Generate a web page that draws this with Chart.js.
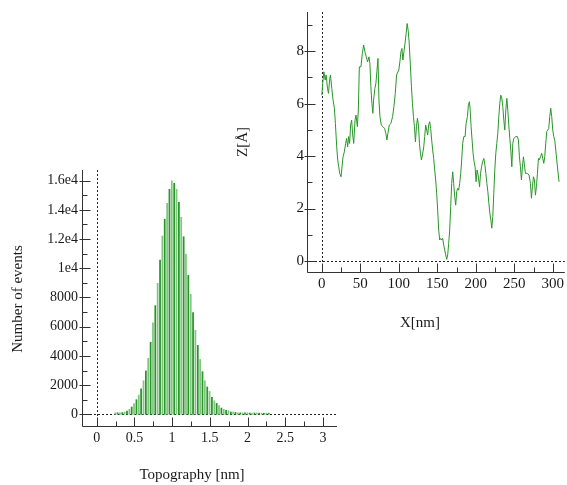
<!DOCTYPE html>
<html>
<head>
<meta charset="utf-8">
<script src="https://cdn.jsdelivr.net/npm/chart.js@4/dist/chart.umd.min.js"></script>
<style>
  html, body { margin: 0; padding: 0; background: #fff; }
  body { width: 567px; height: 485px; position: relative; overflow: hidden; }
  .box { position: absolute; }
</style>
</head>
<body>
<div class="box" style="left:0;top:150px;width:345px;height:335px"><canvas id="histChart"></canvas></div>
<div class="box" style="left:220px;top:0;width:347px;height:340px"><canvas id="profileChart"></canvas></div>
<script>
// histogram of topography heights
const histBins = [0.245, 0.276, 0.308, 0.339, 0.370, 0.402, 0.433, 0.464, 0.495, 0.527,
  0.558, 0.589, 0.621, 0.652, 0.683, 0.715, 0.746, 0.777, 0.808, 0.840,
  0.871, 0.902, 0.934, 0.965, 0.996, 1.028, 1.059, 1.090, 1.121, 1.153,
  1.184, 1.215, 1.247, 1.278, 1.309, 1.341, 1.372, 1.403, 1.434, 1.466,
  1.497, 1.528, 1.560, 1.591, 1.622, 1.654, 1.685, 1.716, 1.747, 1.779,
  1.810, 1.841, 1.873, 1.904, 1.935, 1.967, 1.998, 2.029, 2.060, 2.092,
  2.123, 2.154, 2.186, 2.217, 2.248, 2.280];
const histCounts = [100, 110, 110, 120, 150, 230, 340, 500, 730, 1000,
  1320, 1750, 2300, 2970, 3840, 4930, 6270, 7440, 8970, 10570,
  12210, 13360, 14450, 15410, 16000, 15820, 15410, 14520, 13490, 12160,
  10980, 9520, 8220, 6960, 5750, 4720, 3760, 2920, 2300, 1870,
  1570, 1160, 930, 750, 590, 430, 340, 270, 250, 160,
  160, 130, 110, 100, 100, 100, 100, 90, 90, 90,
  90, 90, 80, 80, 80, 80];
const histXTicks = [0, 0.5, 1, 1.5, 2, 2.5, 3];
const histXMinor = [0.25, 0.75, 1.25, 1.75, 2.25, 2.75];
const histYTicks = [0, 2000, 4000, 6000, 8000, 10000, 12000, 14000, 16000];
const histYLabels = ["0", "2000", "4000", "6000", "8000", "1e4", "1.2e4", "1.4e4", "1.6e4"];
const histYMinor = [1000, 3000, 5000, 7000, 9000, 11000, 13000, 15000];

// height profile along a line
const profileX = [0, 1.3, 2.6, 4.3, 5.6, 7.3, 8.6, 10.3, 11.2, 12.9,
  14.6, 16.3, 17.6, 19.3, 20.6, 21.9, 23.2, 24.9, 26.2, 27.5,
  29.2, 30.9, 32.2, 33.5, 34.8, 36.1, 37.4, 38.7, 40.1, 41.4,
  43.1, 44.4, 46.1, 47.4, 48.7, 50.8, 52.6, 54.3, 56.0, 57.7,
  59.4, 61.2, 62.4, 63.7, 65.0, 66.3, 67.2, 68.9, 70.2, 71.5,
  72.9, 74.2, 75.5, 77.2, 79.4, 81.5, 83.2, 84.5, 85.8, 87.6,
  89.7, 91.9, 93.6, 95.4, 97.1, 100.0, 101.4, 102.7, 104.0, 105.3,
  106.6, 108.3, 109.5, 110.8, 112.1, 113.4, 115.1, 116.4, 117.7, 119.0,
  120.3, 121.6, 122.9, 124.2, 125.5, 126.8, 128.1, 129.4, 130.7, 132.4,
  133.6, 134.9, 136.2, 137.5, 138.8, 140.1, 141.4, 142.7, 144.0, 145.3,
  146.6, 147.9, 149.2, 150.5, 151.8, 153.1, 154.4, 155.7, 157.0, 158.3,
  159.6, 160.9, 162.2, 163.5, 164.8, 166.1, 167.4, 168.7, 170.0, 171.3,
  172.6, 173.9, 175.2, 176.5, 177.8, 179.1, 180.4, 181.7, 183.0, 184.4,
  186.1, 187.4, 189.1, 190.4, 191.7, 192.6, 193.9, 195.2, 196.5, 197.8,
  199.1, 200.4, 201.7, 203.0, 204.9, 206.2, 207.5, 208.8, 210.5, 211.8,
  213.1, 214.4, 215.7, 217.0, 218.3, 219.6, 220.8, 222.1, 223.4, 224.7,
  226.0, 227.3, 228.6, 229.9, 231.2, 232.5, 233.8, 235.1, 236.4, 237.7,
  239.0, 240.3, 241.6, 242.9, 244.2, 245.5, 246.8, 248.1, 249.4, 252.0,
  254.1, 255.4, 256.7, 258.0, 259.3, 260.6, 261.9, 263.2, 264.5, 266.7,
  269.2, 271.0, 272.3, 273.6, 274.9, 276.2, 277.5, 278.8, 280.1, 281.4,
  282.7, 284.0, 285.7, 287.0, 288.3, 289.6, 290.9, 292.2, 293.5, 294.8,
  296.1, 297.4, 298.7, 300.0, 301.3, 302.6, 303.9, 305.2, 306.5, 308.2];
const profileZ = [6.32, 6.83, 7.21, 6.9, 7.09, 6.58, 6.39, 6.96, 7.09, 6.58,
  6.13, 5.82, 5.24, 4.35, 3.85, 3.59, 3.34, 3.21, 3.59, 3.97,
  4.16, 4.48, 4.67, 4.35, 4.74, 4.48, 5.18, 5.37, 4.8, 4.48,
  5.37, 5.56, 5.12, 5.75, 7.4, 7.4, 7.91, 8.23, 7.97, 7.78,
  7.59, 7.78, 7.53, 6.64, 6.01, 5.63, 6.13, 6.58, 6.77, 7.21,
  7.72, 6.13, 5.5, 5.18, 5.12, 5.05, 4.86, 4.61, 4.86, 5.18,
  5.24, 5.5, 5.88, 6.39, 7.09, 7.28, 7.59, 7.97, 8.1, 7.66,
  7.97, 8.35, 8.67, 9.05, 8.8, 8.35, 7.4, 6.64, 6.01, 5.5,
  5.12, 4.54, 5.12, 5.44, 5.18, 4.48, 4.1, 3.85, 4.04, 4.35,
  4.74, 5.18, 4.99, 4.8, 5.18, 5.31, 5.05, 4.61, 4.23, 3.91,
  3.47, 3.09, 2.58, 1.94, 1.18, 0.8, 0.86, 0.8, 0.86, 0.61,
  0.42, 0.23, 0.06, 0.23, 0.67, 1.18, 2.07, 2.96, 3.4, 2.96,
  2.45, 2.13, 2.64, 2.77, 2.7, 2.96, 3.34, 3.85, 4.48, 4.74,
  4.74, 5.24, 5.5, 5.94, 6.07, 5.82, 5.12, 4.61, 4.1, 3.78,
  3.59, 3.02, 3.47, 3.28, 2.83, 3.34, 3.59, 3.78, 3.91, 3.66,
  3.34, 2.96, 2.64, 2.2, 1.82, 1.56, 1.25, 1.69, 2.58, 3.47,
  4.1, 4.48, 4.86, 5.5, 6.01, 6.32, 6.2, 5.88, 5.37, 4.99,
  5.75, 6.2, 5.75, 5.18, 4.67, 4.23, 3.59, 4.48, 4.67, 4.74,
  4.74, 4.61, 3.97, 3.59, 3.09, 3.59, 3.97, 3.66, 3.34, 3.34,
  3.28, 2.96, 2.39, 2.83, 3.21, 3.09, 2.51, 2.83, 3.34, 3.91,
  3.85, 3.97, 4.1, 3.91, 3.72, 3.97, 4.48, 4.93, 4.99, 5.05,
  5.5, 5.82, 5.5, 4.99, 4.74, 4.61, 4.23, 3.85, 3.47, 3.02];
const profileXTicks = [0, 50, 100, 150, 200, 250, 300];
const profileXMinor = [25, 75, 125, 175, 225, 275];
const profileYTicks = [0, 2, 4, 6, 8];
const profileYMinor = [1, 3, 5, 7, 9];

const serif = "'Liberation Serif', 'Times New Roman', serif";
const textColor = "#1a1a1a";

// axis lines, inner ticks, dashed zero lines and axis titles
const axisDecor = {
  id: "axisDecor",
  beforeDatasetsDraw(chart, args, o) {
    const { ctx, chartArea: a, scales: { x, y } } = chart;
    ctx.save();
    ctx.strokeStyle = "#222";
    ctx.lineWidth = 1;
    ctx.setLineDash([2, 2]);
    const x0 = Math.round(x.getPixelForValue(0)) + 0.5;
    const y0 = Math.round(y.getPixelForValue(0)) + 0.5;
    ctx.beginPath();
    ctx.moveTo(x0, a.top); ctx.lineTo(x0, a.bottom);
    ctx.moveTo(a.left, y0); ctx.lineTo(a.right, y0);
    ctx.stroke();
    ctx.restore();
  },
  afterDraw(chart, args, o) {
    const { ctx, chartArea: a, scales: { x, y } } = chart;
    const left = Math.round(a.left) + 0.5;
    const bottom = Math.round(a.bottom) + 0.5;
    ctx.save();
    ctx.strokeStyle = "#333";
    ctx.lineWidth = 1;
    ctx.beginPath();
    ctx.moveTo(left, a.top); ctx.lineTo(left, bottom); ctx.lineTo(a.right, bottom);
    const xtick = (vals, len) => {
      vals.forEach(v => {
        const px = Math.round(x.getPixelForValue(v)) + 0.5;
        ctx.moveTo(px, bottom); ctx.lineTo(px, bottom - len);
      });
    };
    const ytick = (vals, len, out) => {
      vals.forEach(v => {
        const py = Math.round(y.getPixelForValue(v)) + 0.5;
        ctx.moveTo(left - out, py); ctx.lineTo(left + len, py);
      });
    };
    xtick(o.xMajor, 9); xtick(o.xMinor, 5);
    ytick(o.yMajor, 8, 3); ytick(o.yMinor, 5, 0);
    ctx.stroke();

    ctx.fillStyle = textColor;
    ctx.font = "15px " + serif;
    ctx.textAlign = "center";
    ctx.textBaseline = "middle";
    ctx.fillText(o.xTitle.text, o.xTitle.cx, o.xTitle.cy);
    ctx.translate(o.yTitle.cx, o.yTitle.cy);
    ctx.rotate(-Math.PI / 2);
    ctx.fillText(o.yTitle.text, 0, 0);
    ctx.restore();
  }
};

function fixedTicks(values) {
  return scale => { scale.ticks = values.map(v => ({ value: v })); };
}

new Chart(document.getElementById("histChart"), {
  type: "bar",
  data: {
    datasets: [{
      data: histBins.map((b, i) => ({ x: b, y: histCounts[i] })),
      backgroundColor: ctx => ctx.dataIndex % 2 ? "rgb(40,150,40)" : "rgb(128,198,128)",
      barThickness: 1.1,
      borderWidth: 0
    }]
  },
  options: {
    responsive: true,
    maintainAspectRatio: false,
    animation: false,
    events: [],
    layout: { padding: { left: 0, top: 20, right: 8, bottom: 0 } },
    scales: {
      x: {
        type: "linear",
        offset: false,
        min: -0.195,
        max: 3.187,
        grid: { display: false, drawTicks: false, offset: false },
        border: { display: false },
        afterBuildTicks: fixedTicks(histXTicks),
        afterFit: s => { s.height = 59; },
        ticks: {
          padding: 4, color: textColor, font: { family: serif, size: 14 }, maxRotation: 0, autoSkip: false,
          callback: v => String(v)
        }
      },
      y: {
        min: -800,
        max: 16730,
        grid: { display: false, drawTicks: false },
        border: { display: false },
        afterBuildTicks: fixedTicks(histYTicks),
        afterFit: s => { s.width = 82; },
        ticks: {
          padding: 4, color: textColor, font: { family: serif, size: 14 },
          callback: v => histYLabels[histYTicks.indexOf(v)]
        }
      }
    },
    plugins: {
      legend: { display: false },
      tooltip: { enabled: false },
      axisDecor: {
        xMajor: histXTicks, xMinor: histXMinor, yMajor: histYTicks, yMinor: histYMinor,
        xTitle: { text: "Topography [nm]", cx: 192, cy: 325 },
        yTitle: { text: "Number of events", cx: 18, cy: 149 }
      }
    }
  },
  plugins: [axisDecor]
});

new Chart(document.getElementById("profileChart"), {
  type: "line",
  data: {
    datasets: [{
      data: profileX.map((v, i) => ({ x: v, y: profileZ[i] })),
      borderColor: "rgb(40,150,40)",
      borderWidth: 1,
      pointRadius: 0,
      tension: 0,
      fill: false
    }]
  },
  options: {
    responsive: true,
    maintainAspectRatio: false,
    animation: false,
    events: [],
    layout: { padding: { left: 0, top: 12, right: 0, bottom: 0 } },
    scales: {
      x: {
        type: "linear",
        min: -19.3,
        max: 315.7,
        grid: { display: false, drawTicks: false },
        border: { display: false },
        afterBuildTicks: fixedTicks(profileXTicks),
        afterFit: s => { s.height = 68; },
        ticks: { padding: 3, color: textColor, font: { family: serif, size: 15 }, maxRotation: 0, autoSkip: false }
      },
      y: {
        min: -0.42,
        max: 9.49,
        grid: { display: false, drawTicks: false },
        border: { display: false },
        afterBuildTicks: fixedTicks(profileYTicks),
        afterFit: s => { s.width = 87; },
        ticks: { padding: 3, color: textColor, font: { family: serif, size: 15 } }
      }
    },
    plugins: {
      legend: { display: false },
      tooltip: { enabled: false },
      axisDecor: {
        xMajor: profileXTicks, xMinor: profileXMinor, yMajor: profileYTicks, yMinor: profileYMinor,
        xTitle: { text: "X[nm]", cx: 200, cy: 323 },
        yTitle: { text: "Z[Å]", cx: 23, cy: 142 }
      }
    }
  },
  plugins: [axisDecor]
});
</script>
</body>
</html>
